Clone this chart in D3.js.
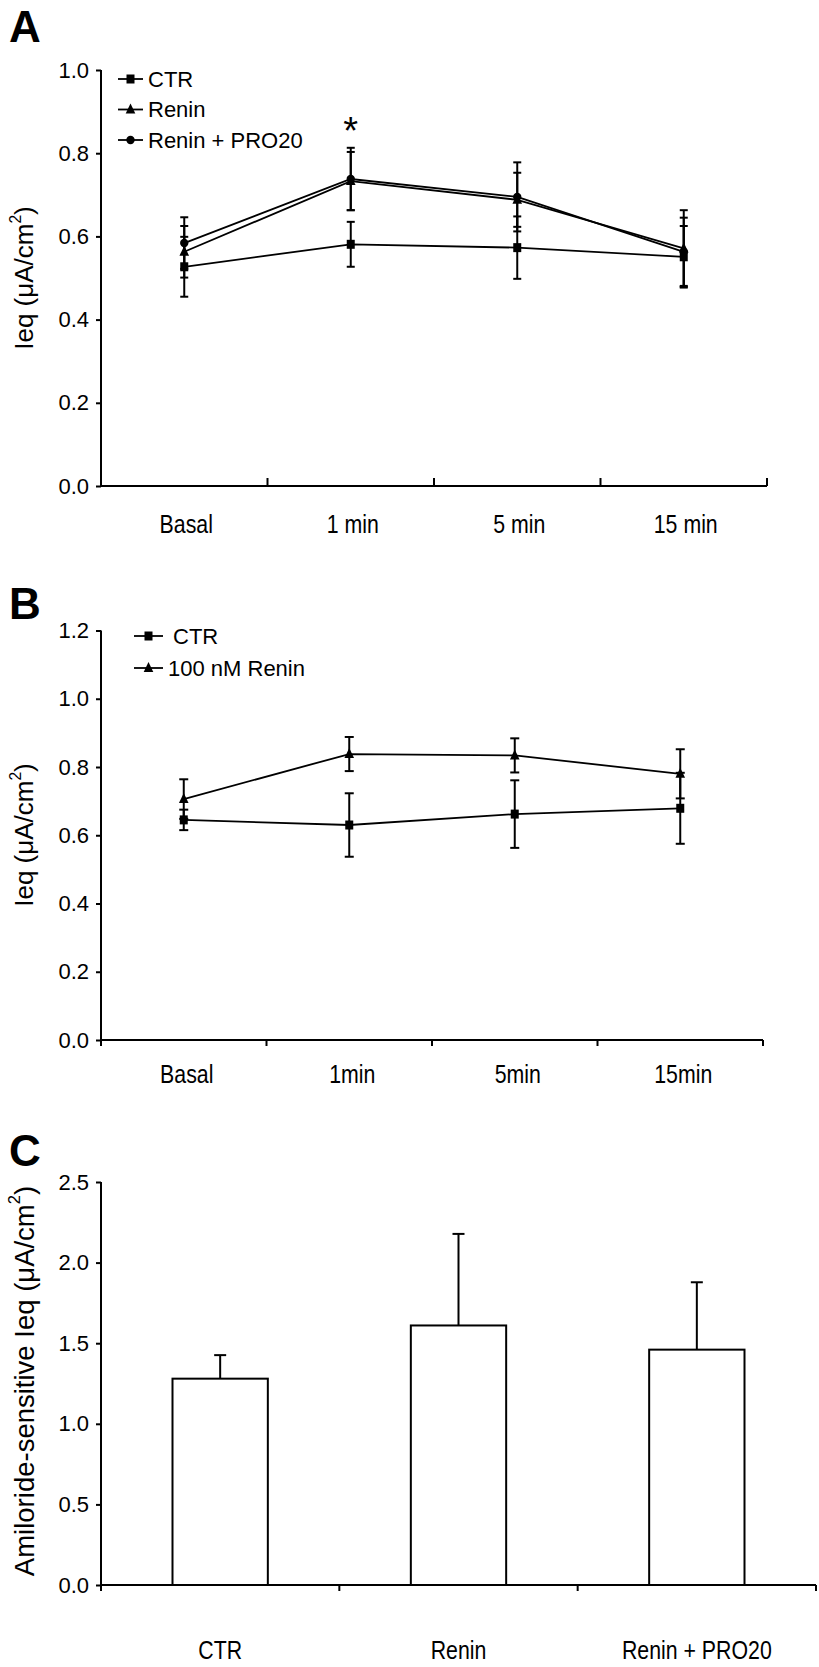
<!DOCTYPE html>
<html><head><meta charset="utf-8">
<script src="https://cdn.jsdelivr.net/npm/d3@7"></script>
<style>
body{margin:0;background:#fff;}
svg text{font-family:"Liberation Sans",Arial,sans-serif;fill:#000;}
</style></head>
<body>
<svg id="chart" width="819" height="1667"></svg>
<script>
// ---------- Panel A data ----------
const catsA = ["Basal", "1 min", "5 min", "15 min"];
const ctrA = [0.527, 0.581, 0.573, 0.551];
const ctrAerr = [0.072, 0.054, 0.075, 0.074];
const reninA = [0.563, 0.733, 0.688, 0.571];
const reninAerr = [0.062, 0.070, 0.065, 0.092];
const proA = [0.584, 0.738, 0.695, 0.563];
const proAerr = [0.062, 0.075, 0.083, 0.082];
const ticksA = [0, 0.2, 0.4, 0.6, 0.8, 1.0];
const legendA = ["CTR", "Renin", "Renin + PRO20"];

// ---------- Panel B data ----------
const catsB = ["Basal", "1min", "5min", "15min"];
const ctrB = [0.645, 0.630, 0.662, 0.679];
const ctrBerr = [0.030, 0.093, 0.099, 0.104];
const reninB = [0.706, 0.838, 0.834, 0.780];
const reninBerr = [0.058, 0.050, 0.050, 0.072];
const ticksB = [0, 0.2, 0.4, 0.6, 0.8, 1.0, 1.2];
const legendB = ["CTR", "100 nM Renin"];

// ---------- Panel C data ----------
const catsC = ["CTR", "Renin", "Renin + PRO20"];
const valsC = [1.28, 1.61, 1.46];
const errC = [0.146, 0.568, 0.418];
const ticksC = [0, 0.5, 1.0, 1.5, 2.0, 2.5];

const svg = d3.select("#chart");
const fmt = d3.format(".1f");

function yAxisTitle(g, text, cx, cy, fs) {
  const t = g.append("text")
    .attr("transform", `translate(${cx},${cy}) rotate(-90)`)
    .attr("text-anchor", "middle")
    .attr("dominant-baseline", "central")
    .attr("font-size", fs);
  t.append("tspan").text(text);
  t.append("tspan").text("2").attr("font-size", fs * 0.6).attr("dy", -fs * 0.36);
  t.append("tspan").text(")").attr("dy", fs * 0.36);
}

function panelLetter(letter, x, y) {
  svg.append("text").attr("x", x).attr("y", y).attr("font-size", 44)
    .attr("font-weight", "bold").text(letter);
}

function drawYAxis(g, y, ticks, x0) {
  const ax = g.append("g").attr("transform", `translate(${x0},0)`)
    .call(d3.axisLeft(y).tickValues(ticks).tickFormat(fmt).tickSize(5).tickPadding(7));
  ax.select(".domain").attr("stroke-width", 2).attr("d", `M-0,${y.range()[0]}V${y.range()[1]}`);
  ax.selectAll(".tick line").attr("stroke-width", 2);
  ax.selectAll(".tick text").attr("font-size", 22).attr("font-family", "Liberation Sans, Arial, sans-serif");
  return ax;
}

function catLabels(g, x, cats, yb, dx) {
  cats.forEach(c => {
    g.append("text")
      .attr("transform", `translate(${x(c) + x.bandwidth() / 2 + dx},${yb}) scale(0.82,1)`)
      .attr("text-anchor", "middle").attr("font-size", 26).text(c);
  });
}

function xAxisLine(g, x, cats, y0, tickDir, tickLen) {
  const r = x.range();
  g.append("line").attr("x1", r[0]).attr("x2", r[1]).attr("y1", y0).attr("y2", y0)
    .attr("stroke", "#000").attr("stroke-width", 2);
  const bounds = cats.map(c => x(c)).concat([r[1]]);
  g.selectAll(null).data(bounds).enter().append("line")
    .attr("x1", d => d).attr("x2", d => d)
    .attr("y1", y0).attr("y2", y0 + tickDir * tickLen)
    .attr("stroke", "#000").attr("stroke-width", 2);
}

function marker(g, type, cx, cy) {
  if (type === "square") {
    g.append("rect").attr("x", cx - 4).attr("y", cy - 4.5).attr("width", 8).attr("height", 9).attr("fill", "#000");
  } else if (type === "triangle") {
    g.append("path").attr("d", `M${cx},${cy - 6}L${cx + 4.8},${cy + 4}L${cx - 4.8},${cy + 4}Z`).attr("fill", "#000");
  } else {
    g.append("circle").attr("cx", cx).attr("cy", cy).attr("r", 4.2).attr("fill", "#000");
  }
}

function series(g, x, y, cats, vals, errs, type, capW) {
  const cx = c => x(c) + x.bandwidth() / 2;
  cats.forEach((c, i) => {
    const xc = cx(c), yt = y(vals[i] + errs[i]), yb = y(vals[i] - errs[i]);
    g.append("line").attr("x1", xc).attr("x2", xc).attr("y1", yt).attr("y2", yb).attr("stroke", "#000").attr("stroke-width", 2);
    [yt, yb].forEach(yy => g.append("line").attr("x1", xc - capW / 2).attr("x2", xc + capW / 2)
      .attr("y1", yy).attr("y2", yy).attr("stroke", "#000").attr("stroke-width", 2));
  });
  const line = d3.line().x((d, i) => cx(cats[i])).y(d => y(d));
  g.append("path").attr("d", line(vals)).attr("fill", "none").attr("stroke", "#000").attr("stroke-width", 1.8);
  cats.forEach((c, i) => marker(g, type, cx(c), y(vals[i])));
}

function legendRow(g, type, x1, x2, yy, tx, label) {
  g.append("line").attr("x1", x1).attr("x2", x2).attr("y1", yy).attr("y2", yy).attr("stroke", "#000").attr("stroke-width", 1.8);
  marker(g, type, (x1 + x2) / 2, yy);
  g.append("text").attr("x", tx).attr("y", yy).attr("dy", "0.36em").attr("font-size", 22).text(label);
}

// ================= Panel A =================
{
  const g = svg.append("g");
  panelLetter("A", 9, 42);
  const x = d3.scaleBand().domain(catsA).range([101, 767]).padding(0);
  const y = d3.scaleLinear().domain([0, 1.0]).range([486, 70]);
  drawYAxis(g, y, ticksA, 101);
  xAxisLine(g, x, catsA, 486, -1, 8);
  catLabels(g, x, catsA, 533, 2);
  yAxisTitle(g, "Ieq (μA/cm", 24, 278, 26);
  series(g, x, y, catsA, ctrA, ctrAerr, "square", 8);
  series(g, x, y, catsA, reninA, reninAerr, "triangle", 8);
  series(g, x, y, catsA, proA, proAerr, "circle", 8);
  g.append("text").attr("x", x("1 min") + x.bandwidth() / 2).attr("y", y(0.813) - 4)
    .attr("text-anchor", "middle").attr("font-size", 38).attr("font-weight", 300).text("*");
  const types = ["square", "triangle", "circle"];
  legendA.forEach((l, i) => legendRow(g, types[i], 118, 143, 79 + i * 30.5, 148, l));
}

// ================= Panel B =================
{
  const g = svg.append("g");
  panelLetter("B", 9, 619);
  const x = d3.scaleBand().domain(catsB).range([101, 763]).padding(0);
  const y = d3.scaleLinear().domain([0, 1.2]).range([1040, 630.5]);
  drawYAxis(g, y, ticksB, 101);
  xAxisLine(g, x, catsB, 1040, 1, 6);
  catLabels(g, x, catsB, 1083, 3);
  yAxisTitle(g, "Ieq (μA/cm", 24, 835, 26);
  series(g, x, y, catsB, ctrB, ctrBerr, "square", 9);
  series(g, x, y, catsB, reninB, reninBerr, "triangle", 9);
  legendRow(g, "square", 134, 163, 636, 173, legendB[0]);
  legendRow(g, "triangle", 134, 163, 668, 168, legendB[1]);
}

// ================= Panel C =================
{
  const g = svg.append("g");
  panelLetter("C", 9, 1166);
  const x = d3.scaleBand().domain(catsC).range([101, 816]).padding(0);
  const y = d3.scaleLinear().domain([0, 2.5]).range([1585, 1182]);
  drawYAxis(g, y, ticksC, 101);
  const bw = x.bandwidth() * 0.4;
  catsC.forEach((c, i) => {
    const xc = x(c) + x.bandwidth() / 2;
    g.append("line").attr("x1", xc).attr("x2", xc).attr("y1", y(valsC[i])).attr("y2", y(valsC[i] + errC[i]))
      .attr("stroke", "#000").attr("stroke-width", 2);
    g.append("line").attr("x1", xc - 6).attr("x2", xc + 6).attr("y1", y(valsC[i] + errC[i])).attr("y2", y(valsC[i] + errC[i]))
      .attr("stroke", "#000").attr("stroke-width", 2);
  });
  g.selectAll(null).data(valsC).enter().append("rect")
    .attr("x", (d, i) => x(catsC[i]) + (x.bandwidth() - bw) / 2)
    .attr("y", d => y(d)).attr("width", bw).attr("height", d => y(0) - y(d))
    .attr("fill", "#fff").attr("stroke", "#000").attr("stroke-width", 2);
  xAxisLine(g, x, catsC, 1585, 1, 6);
  catLabels(g, x, catsC, 1659, 0);
  yAxisTitle(g, "Amiloride-sensitive Ieq (μA/cm", 24, 1381, 27.5);
}
</script>
</body></html>
